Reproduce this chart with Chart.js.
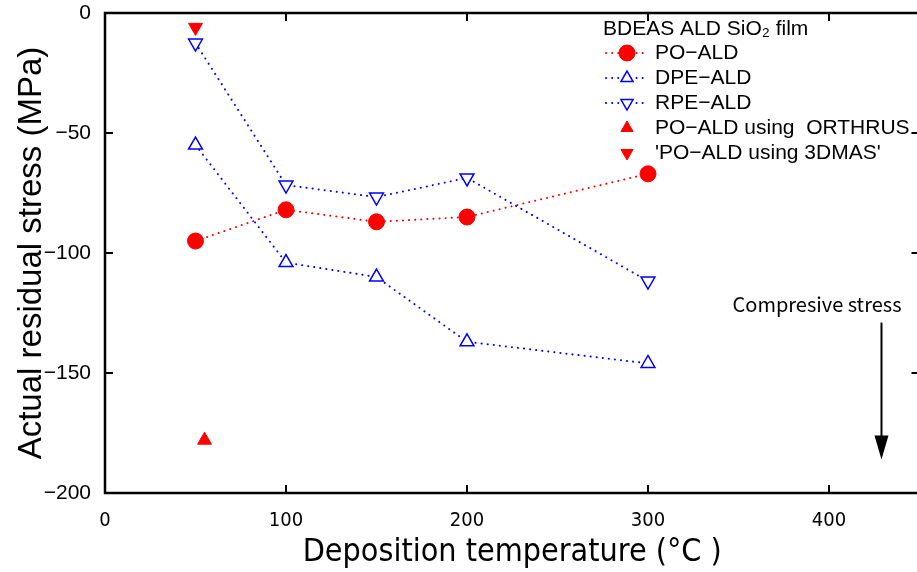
<!DOCTYPE html>
<html>
<head>
<meta charset="utf-8">
<script src="https://cdn.jsdelivr.net/npm/chart.js@4"></script>
<style>
  html, body { margin: 0; padding: 0; background: #fff; overflow: hidden; }
  canvas { display: block; }
</style>
</head>
<body>
<canvas id="stress" width="921" height="572"></canvas>
<script>
/* dane */
var temps = [50, 100, 150, 200, 300];
var poAld = [-95, -82, -87, -85, -67];
var dpeAld = [-55, -104, -110, -137, -146];
var rpeAld = [-12.5, -71.7, -76.7, -68.7, -111.7];
var orthrusX = [55];
var orthrusY = [-178];
var dmasX = [50];
var dmasY = [-6];
var xTicks = [0, 100, 200, 300, 400];
var yTicks = [0, -50, -100, -150, -200];

/* strzałka "Compresive stress" */
var arrowX = 429;
var arrowFrom = -129;
var arrowTo = -186;

var RED = '#ff0000';
var BLUE = '#0000ff';
var tickFont = "'Liberation Sans', Arial, sans-serif";
var narrowFont = "'Liberation Sans Narrow', 'DejaVu Sans Condensed', 'Liberation Sans', sans-serif";

function pts(xs, ys) {
    return xs.map(function (x, i) { return { x: x, y: ys[i] }; });
}

/* ramka z tickami do środka, legenda i strzałka */
var framePlugin = {
    id: 'frame',
    afterDraw: function (chart) {
        var c = chart.ctx;
        var a = chart.chartArea;
        var sx = chart.scales.x, sy = chart.scales.y;
        c.save();
        c.strokeStyle = '#000';
        c.lineWidth = 2.5;
        c.strokeRect(a.left, a.top, a.right - a.left, a.bottom - a.top);
        c.lineWidth = 2;
        c.beginPath();
        xTicks.forEach(function (v) {
            var px = sx.getPixelForValue(v);
            if (v === 0) return;
            c.moveTo(px, a.bottom); c.lineTo(px, a.bottom - 8);
            c.moveTo(px, a.top); c.lineTo(px, a.top + 8);
        });
        yTicks.forEach(function (v) {
            var py = sy.getPixelForValue(v);
            if (v === 0 || v === -200) return;
            c.moveTo(a.left, py); c.lineTo(a.left + 8, py);
            c.moveTo(a.right, py); c.lineTo(a.right - 8, py);
        });
        c.stroke();

        /* legenda */
        var lx = 603, ly = 29;
        c.fillStyle = '#000';
        c.textBaseline = 'middle';
        c.textAlign = 'left';
        c.font = "21px " + tickFont;
        c.fillText('BDEAS ALD SiO\u2082 film', lx, ly);
        chart.data.datasets.forEach(function (ds, i) {
            var y = 53 + i * 25;
            if (ds.showLine) {
                c.save();
                c.strokeStyle = ds.borderColor;
                c.lineWidth = 2;
                c.lineCap = 'round';
                c.setLineDash([0.1, 6]);
                c.beginPath();
                c.moveTo(606, y); c.lineTo(648, y);
                c.stroke();
                c.restore();
            }
            c.fillStyle = ds.pointBackgroundColor;
            c.strokeStyle = ds.pointBorderColor;
            c.lineWidth = ds.pointBorderWidth;
            Chart.helpers.drawPoint(c, {
                pointStyle: ds.pointStyle,
                rotation: ds.pointRotation || 0,
                radius: ds.pointStyle === 'circle' ? 8 : 7,
                borderWidth: ds.pointBorderWidth
            }, 627, y);
            c.fillStyle = '#000';
            c.font = "21px " + tickFont;
            c.fillText(ds.label, 655, y);
        });

        /* strzałka */
        var ax = sx.getPixelForValue(arrowX);
        var y1 = sy.getPixelForValue(arrowFrom);
        var y2 = sy.getPixelForValue(arrowTo);
        c.textAlign = 'center';
        c.font = "20px 'Noto Sans CJK JP', " + tickFont;
        c.fillText('Compresive stress', 817, 304);
        c.lineWidth = 2;
        c.strokeStyle = '#000';
        c.fillStyle = '#000';
        c.beginPath();
        c.moveTo(ax, y1); c.lineTo(ax, y2 - 20);
        c.stroke();
        c.beginPath();
        c.moveTo(ax - 7, y2 - 24); c.lineTo(ax + 7, y2 - 24); c.lineTo(ax, y2);
        c.closePath();
        c.fill();
        c.restore();
    }
};

var ctxStress = document.getElementById('stress');

var chartStress = new Chart(ctxStress, {
    type: 'scatter',
    data: {
        datasets: [
            {
                label: 'PO\u2212ALD',
                data: pts(temps, poAld),
                showLine: true,
                borderColor: RED,
                borderWidth: 2,
                borderCapStyle: 'round',
                borderDash: [0.1, 6],
                pointStyle: 'circle',
                pointRadius: 8,
                pointBackgroundColor: RED,
                pointBorderColor: RED,
                pointBorderWidth: 1
            },
            {
                label: 'DPE\u2212ALD',
                data: pts(temps, dpeAld),
                showLine: true,
                borderColor: BLUE,
                borderWidth: 2,
                borderCapStyle: 'round',
                borderDash: [0.1, 6],
                pointStyle: 'triangle',
                pointRadius: 8,
                pointBackgroundColor: '#ffffff',
                pointBorderColor: BLUE,
                pointBorderWidth: 1.5
            },
            {
                label: 'RPE\u2212ALD',
                data: pts(temps, rpeAld),
                showLine: true,
                borderColor: BLUE,
                borderWidth: 2,
                borderCapStyle: 'round',
                borderDash: [0.1, 6],
                pointStyle: 'triangle',
                pointRotation: 180,
                pointRadius: 8,
                pointBackgroundColor: '#ffffff',
                pointBorderColor: BLUE,
                pointBorderWidth: 1.5
            },
            {
                label: 'PO\u2212ALD using  ORTHRUS',
                data: pts(orthrusX, orthrusY),
                showLine: false,
                borderColor: RED,
                pointStyle: 'triangle',
                pointRadius: 8,
                pointBackgroundColor: RED,
                pointBorderColor: RED,
                pointBorderWidth: 1
            },
            {
                label: "'PO\u2212ALD using 3DMAS'",
                data: pts(dmasX, dmasY),
                showLine: false,
                borderColor: RED,
                pointStyle: 'triangle',
                pointRotation: 180,
                pointRadius: 8,
                pointBackgroundColor: RED,
                pointBorderColor: RED,
                pointBorderWidth: 1
            }
        ]
    },
    options: {
        responsive: false,
        maintainAspectRatio: false,
        animation: false,
        layout: {
            autoPadding: false,
            padding: { top: 13, right: 1.5, left: 0, bottom: 0 }
        },
        plugins: {
            legend: { display: false },
            tooltip: { enabled: false }
        },
        scales: {
            x: {
                type: 'linear',
                min: 0,
                max: 450,
                afterBuildTicks: function (s) {
                    s.ticks = xTicks.map(function (v) { return { value: v }; });
                },
                afterFit: function (s) {
                    s.height = 79;
                    s.paddingLeft = 0;
                    s.paddingRight = 0;
                },
                grid: { display: false },
                border: { display: false },
                ticks: {
                    color: '#000',
                    padding: 8,
                    maxRotation: 0,
                    font: { family: narrowFont, size: 20 }
                },
                title: {
                    display: true,
                    text: 'Deposition temperature (\u00B0C )',
                    color: '#000',
                    padding: { top: 8, bottom: 0 },
                    font: { family: narrowFont, size: 32 }
                }
            },
            y: {
                type: 'linear',
                min: -200,
                max: 0,
                afterBuildTicks: function (s) {
                    s.ticks = yTicks.map(function (v) { return { value: v }; });
                },
                afterFit: function (s) {
                    s.width = 105;
                    s.paddingTop = 0;
                    s.paddingBottom = 0;
                },
                grid: { display: false },
                border: { display: false },
                ticks: {
                    color: '#000',
                    padding: 6,
                    font: { family: tickFont, size: 21 },
                    callback: function (v) { return String(v).replace('-', '\u2212'); }
                },
                title: {
                    display: true,
                    text: 'Actual residual stress (MPa)',
                    color: '#000',
                    padding: { top: 12, bottom: 0 },
                    font: { family: tickFont, size: 33 }
                }
            }
        }
    },
    plugins: [framePlugin]
});
</script>
</body>
</html>
